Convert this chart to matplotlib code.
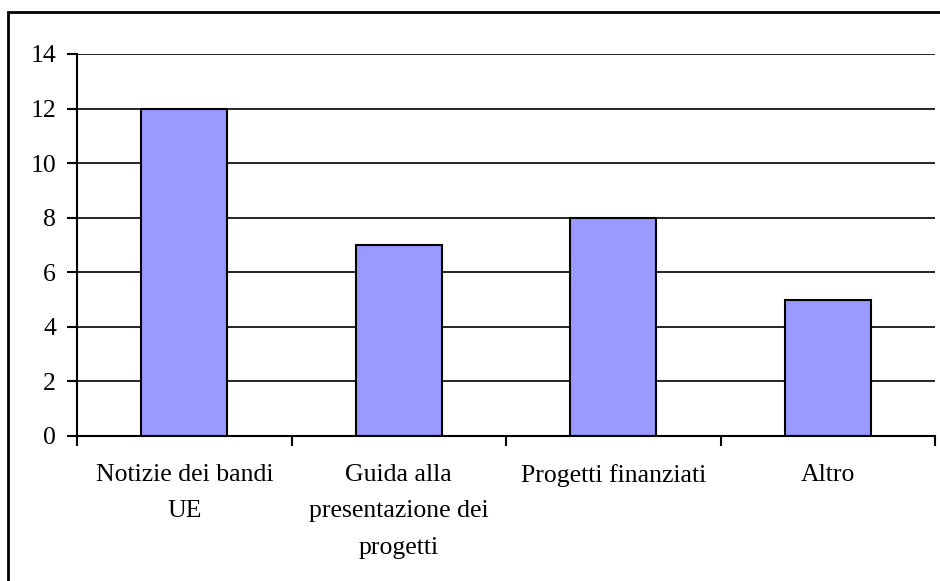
import numpy as np
import matplotlib
matplotlib.use('Agg')
import matplotlib.pyplot as plt
from matplotlib.patches import Rectangle

categorie = ['Notizie dei bandi\nUE', 'Guida alla\npresentazione dei\nprogetti',
             'Progetti finanziati', 'Altro']
valori = [12, 7, 8, 5]
yticks = [0, 2, 4, 6, 8, 10, 12, 14]

plt.rcParams['font.family'] = ['Liberation Serif', 'DejaVu Serif']

fig = plt.figure(figsize=(9.4, 5.81), dpi=100)
# bordo esterno del grafico (esce dall'immagine a destra e in basso)
fig.patches.append(Rectangle((8 / 940, -0.05), 1.0, 1 - 12 / 581 + 0.05,
                             transform=fig.transFigure, fill=False,
                             edgecolor='black', linewidth=2))

ax = fig.add_axes([77 / 940, 1 - 436 / 581, (935 - 77) / 940, (436 - 54) / 581])
x = np.arange(len(categorie))
ax.bar(x, valori, width=0.4, color='#9999FF', edgecolor='black', linewidth=1.5, zorder=3)

ax.set_xlim(-0.5, len(categorie) - 0.5)
ax.set_ylim(0, 14)
ax.set_yticks(yticks)
ax.set_yticklabels([str(v) for v in yticks], fontsize=18.5)
for v in yticks[1:]:
    ax.axhline(v, color='black', linewidth=1.2, zorder=1)

ax.set_xticks(np.arange(-0.5, len(categorie)), minor=False)
ax.set_xticklabels([])
ax.set_xticks(x, minor=True)
ax.set_xticklabels(categorie, minor=True, fontsize=18.5, linespacing=1.85)
ax.tick_params(axis='x', which='major', direction='out', length=7, width=1.5)
ax.tick_params(axis='x', which='minor', length=0, pad=20)
ax.tick_params(axis='y', direction='out', length=7, width=1.5, pad=8)

for s in ['top', 'right']:
    ax.spines[s].set_visible(False)
for s in ['left', 'bottom']:
    ax.spines[s].set_linewidth(1.5)
    ax.spines[s].set_zorder(4)

fig.savefig('out.png', dpi=100)
